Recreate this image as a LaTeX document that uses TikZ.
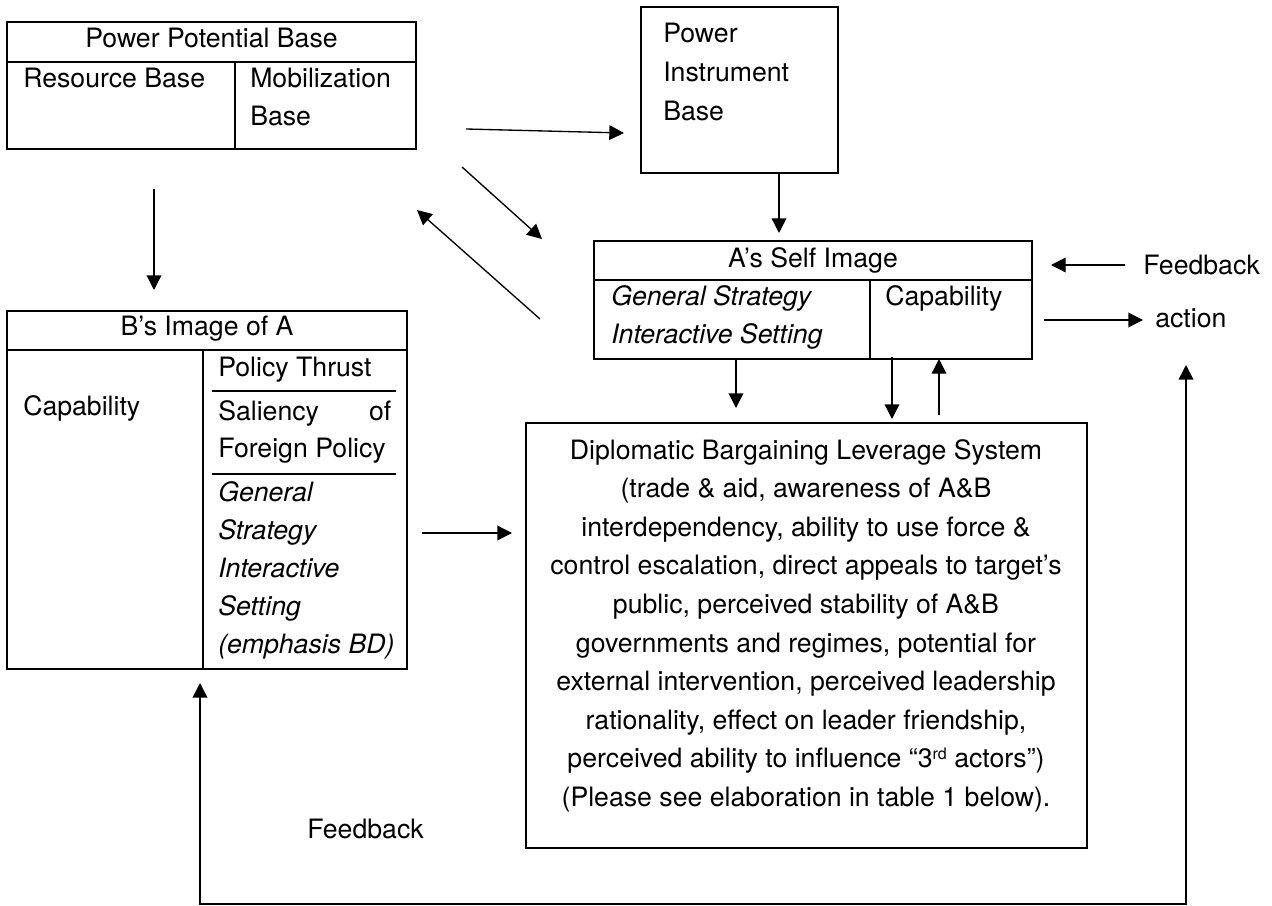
\documentclass[tikz,border=0pt]{standalone}
\usepackage{fontspec}
\setmainfont{TeX Gyre Heros}
\usetikzlibrary{arrows.meta,positioning,fit}

\tikzset{
  box/.style={draw, line width=1.4pt, inner sep=0pt},
  rule/.style={line width=1.4pt},
  thinrule/.style={line width=1pt},
  arr/.style={-{Triangle[length=11pt,width=11pt]}, line width=1pt},
  loop/.style={{Triangle[length=11pt,width=11pt]}-{Triangle[length=11pt,width=11pt]}, line width=1.2pt},
  lbl/.style={inner sep=0pt, font=\fontsize{20}{29}\selectfont},
  itlbl/.style={inner sep=0pt, font=\fontsize{20}{29}\selectfont\itshape}
}

\begin{document}
\begin{tikzpicture}[x=0.75pt, y=-0.75pt]
  \useasboundingbox (0,0) rectangle (1272,906);

  % Power Potential Base
  \node[box, fit={(7,22) (416,149)}] (ppb) {};
  \draw[rule] (7,62) -- (416,62);
  \draw[rule] (235,62) -- (235,149);
  \node[lbl, anchor=base] (ppbtitle) at (211.5,48) {Power Potential Base};
  \node[lbl, anchor=base west] (res) at (23,88) {Resource Base};
  \node[lbl, anchor=base west] (mob) at (250,88) {Mobilization};
  \node[lbl, anchor=base west] (mobbase) at (250,126) {Base};

  % Power Instrument Base
  \node[box, fit={(641,7) (838,173)}] (pib) {};
  \foreach \t/\yy in {Power/43, Instrument/82, Base/121}
    \node[lbl, anchor=base west] (pib-\t) at (663,\yy) {\t};

  % A's self image
  \node[box, fit={(594,241) (1032,359)}] (self) {};
  \draw[rule] (594,280) -- (1032,280);
  \draw[rule] (870,280) -- (870,359);
  \node[lbl, anchor=base] (selftitle) at (813,267) {A’s Self Image};
  \node[itlbl, anchor=base west] (selfgen) at (611,305) {General Strategy};
  \node[itlbl, anchor=base west] (selfint) at (611,343) {Interactive Setting};
  \node[lbl, anchor=base west] (selfcap) at (885,305) {Capability};

  % B's image of A
  \node[box, fit={(7,311) (407,669)}] (bimg) {};
  \draw[rule] (7,350) -- (407,350);
  \draw[rule] (203,350) -- (203,669);
  \node[lbl, anchor=base] (bimgtitle) at (207,335) {B’s Image of A};
  \node[lbl, anchor=base west] (bcap) at (23,415) {Capability};
  \node[lbl, anchor=base west] (thrust) at (218,376) {Policy Thrust};
  \draw[thinrule] (212,391) -- (396,391);
  \node[lbl, anchor=base west] (sal) at (218,420) {\makebox[129.75pt][s]{Saliency of}};
  \node[lbl, anchor=base west] (foreign) at (218,457) {Foreign Policy};
  \draw[thinrule] (212,474) -- (396,474);
  \foreach \t [count=\i from 0] in {General, Strategy, Interactive, Setting, (emphasis BD)}
    \node[itlbl, anchor=base west] (bit-\i) at (218,{501+38*\i}) {\t};

  % Diplomatic bargaining leverage system
  \node[box, fit={(526,423) (1087,848)}] (dbl) {};
  \foreach \t [count=\i from 0] in {
      Diplomatic Bargaining Leverage System,
      {(trade \& aid, awareness of A\&B},
      {interdependency, ability to use force \&},
      {control escalation, direct appeals to target’s},
      {public, perceived stability of A\&B},
      {governments and regimes, potential for},
      {external intervention, perceived leadership},
      {rationality, effect on leader friendship,},
      {perceived ability to influence “3\raisebox{0.6ex}{\fontsize{12}{12}\selectfont rd} actors”)},
      {(Please see elaboration in table 1 below).}}
    \node[lbl, anchor=base] (dbl-\i) at (806,{459+38.6*\i}) {\t};

  % free labels
  \node[lbl, anchor=base west] (fbtop) at (1143,274) {Feedback};
  \node[lbl, anchor=base west] (action) at (1155,327) {action};
  \node[lbl, anchor=base west] (fbbot) at (307,838) {Feedback};

  % arrow ends
  \coordinate (ppbout) at (466,129);   \coordinate (pibin) at (624,133);
  \coordinate (ppbdiag) at (462,167);  \coordinate (selfdiag) at (542,239);
  \coordinate (selfback) at (540,319); \coordinate (ppbback) at (417,210);
  \coordinate (ppbdown) at (154,189);  \coordinate (bimgin) at (154,290);
  \coordinate (pibout) at (779,173);   \coordinate (selfin) at (779,233);
  \coordinate (selfout) at (736,360);  \coordinate (dblin) at (736,408);
  \coordinate (capout) at (892,357);   \coordinate (dblcap) at (892,419);
  \coordinate (dblout) at (939,415);   \coordinate (capin) at (939,359);
  \coordinate (fbfrom) at (1125,265);  \coordinate (fbto) at (1051,265);
  \coordinate (actfrom) at (1044,320); \coordinate (actto) at (1143,320);
  \coordinate (bimgout) at (422,533);  \coordinate (dblleft) at (512,533);
  \coordinate (loopb) at (200,683);    \coordinate (loopa) at (1186,365);

  \draw[arr] (ppbout) -- (pibin);
  \draw[arr] (ppbdiag) -- (selfdiag);
  \draw[arr] (selfback) -- (ppbback);
  \draw[arr] (ppbdown) -- (bimgin);
  \draw[arr] (pibout) -- (selfin);
  \draw[arr] (selfout) -- (dblin);
  \draw[arr] (capout) -- (dblcap);
  \draw[arr] (dblout) -- (capin);
  \draw[arr] (fbfrom) -- (fbto);
  \draw[arr] (actfrom) -- (actto);
  \draw[arr] (bimgout) -- (dblleft);
  \draw[loop] (loopb) -- (loopb |- 0,904) -- (loopa |- 0,904) -- (loopa);
\end{tikzpicture}
\end{document}
